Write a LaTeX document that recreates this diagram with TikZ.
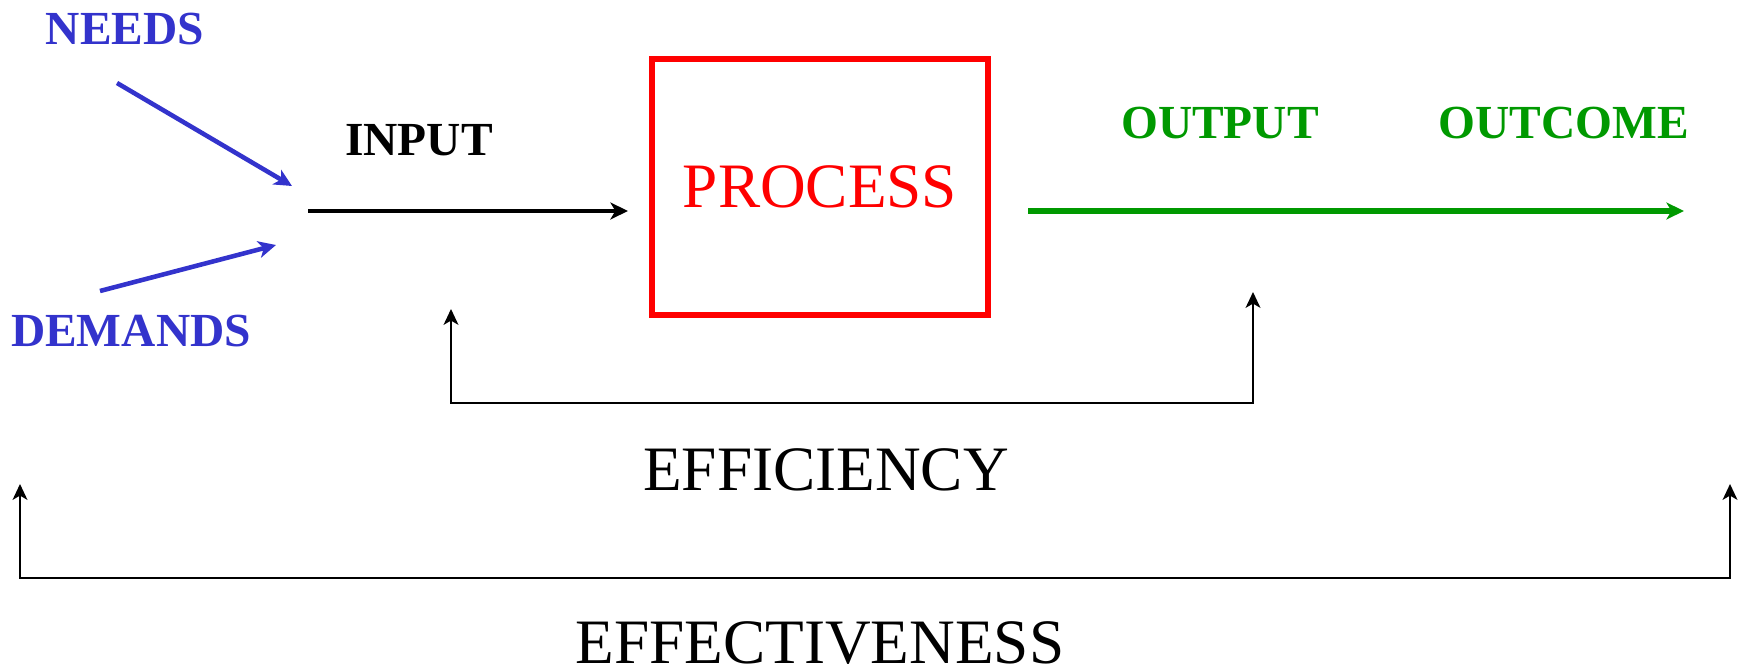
\documentclass[tikz,border=0pt]{standalone}
\usepackage{fontspec}
\setmainfont{Liberation Serif}
\usetikzlibrary{positioning, arrows.meta}
\usepackage{xcolor}
\definecolor{needblue}{RGB}{51,51,204}
\definecolor{outgreen}{RGB}{0,153,0}

\begin{document}
\begin{tikzpicture}[
    lbl/.style={font=\fontsize{13.5}{16}\selectfont\bfseries, inner sep=0pt},
    big/.style={font=\fontsize{18}{21}\selectfont, inner sep=0pt},
    flow/.style={line width=1.3pt, -{Stealth[length=5pt, width=4.8pt, inset=1.4pt]}},
    loop/.style={line width=0.65pt, {Stealth[length=4.5pt, width=4.2pt, inset=1.2pt]}-{Stealth[length=4.5pt, width=4.2pt, inset=1.2pt]}}
]
    % Frame
    \useasboundingbox (0,0) rectangle (17.44,6.70);

    % Needs and demands
    \node[lbl, needblue] (needs) at (1.25,6.41) {NEEDS};
    \node[lbl, needblue] (demands) at (1.31,3.39) {DEMANDS};
    \coordinate (needs-from) at (1.17,5.87);
    \coordinate (needs-to) at (2.92,4.84);
    \coordinate (demands-from) at (1.00,3.79);
    \coordinate (demands-to) at (2.76,4.25);
    \draw[flow, needblue] (needs-from) -- (needs-to);
    \draw[flow, needblue] (demands-from) -- (demands-to);

    % Input
    \node[lbl] (input) at (4.19,5.30) {INPUT};
    \coordinate (input-from) at (3.08,4.59);
    \coordinate (input-to) at (6.28,4.59);
    \draw[flow, line width=1.4pt] (input-from) -- (input-to);

    % Process
    \node[big, red, draw=red, line width=1.5pt, minimum width=3.36cm,
          minimum height=2.56cm] (process) at (8.20,4.83) {PROCESS};

    % Output and outcome
    \node[lbl, outgreen] (output) at (12.20,5.47) {OUTPUT};
    \node[lbl, outgreen] (outcome) at (15.64,5.47) {OUTCOME};
    \coordinate (output-from) at (10.28,4.59);
    \coordinate (outcome-to) at (16.84,4.59);
    \draw[flow, outgreen, line width=1.45pt] (output-from) -- (outcome-to);

    % Efficiency
    \coordinate (effi-l) at (4.51,3.61);
    \coordinate (effi-r) at (12.53,3.78);
    \coordinate (effi-base) at (0,2.67);
    \draw[loop] (effi-l) -- (effi-l |- effi-base) -| (effi-r);
    \node[big] (efficiency) at (8.26,2.00) {EFFICIENCY};

    % Effectiveness
    \coordinate (effe-l) at (0.20,1.86);
    \coordinate (effe-r) at (17.30,1.86);
    \coordinate (effe-base) at (0,0.92);
    \draw[loop] (effe-l) -- (effe-l |- effe-base) -| (effe-r);
    \node[big] (effectiveness) at (8.20,0.27) {EFFECTIVENESS};
\end{tikzpicture}
\end{document}
